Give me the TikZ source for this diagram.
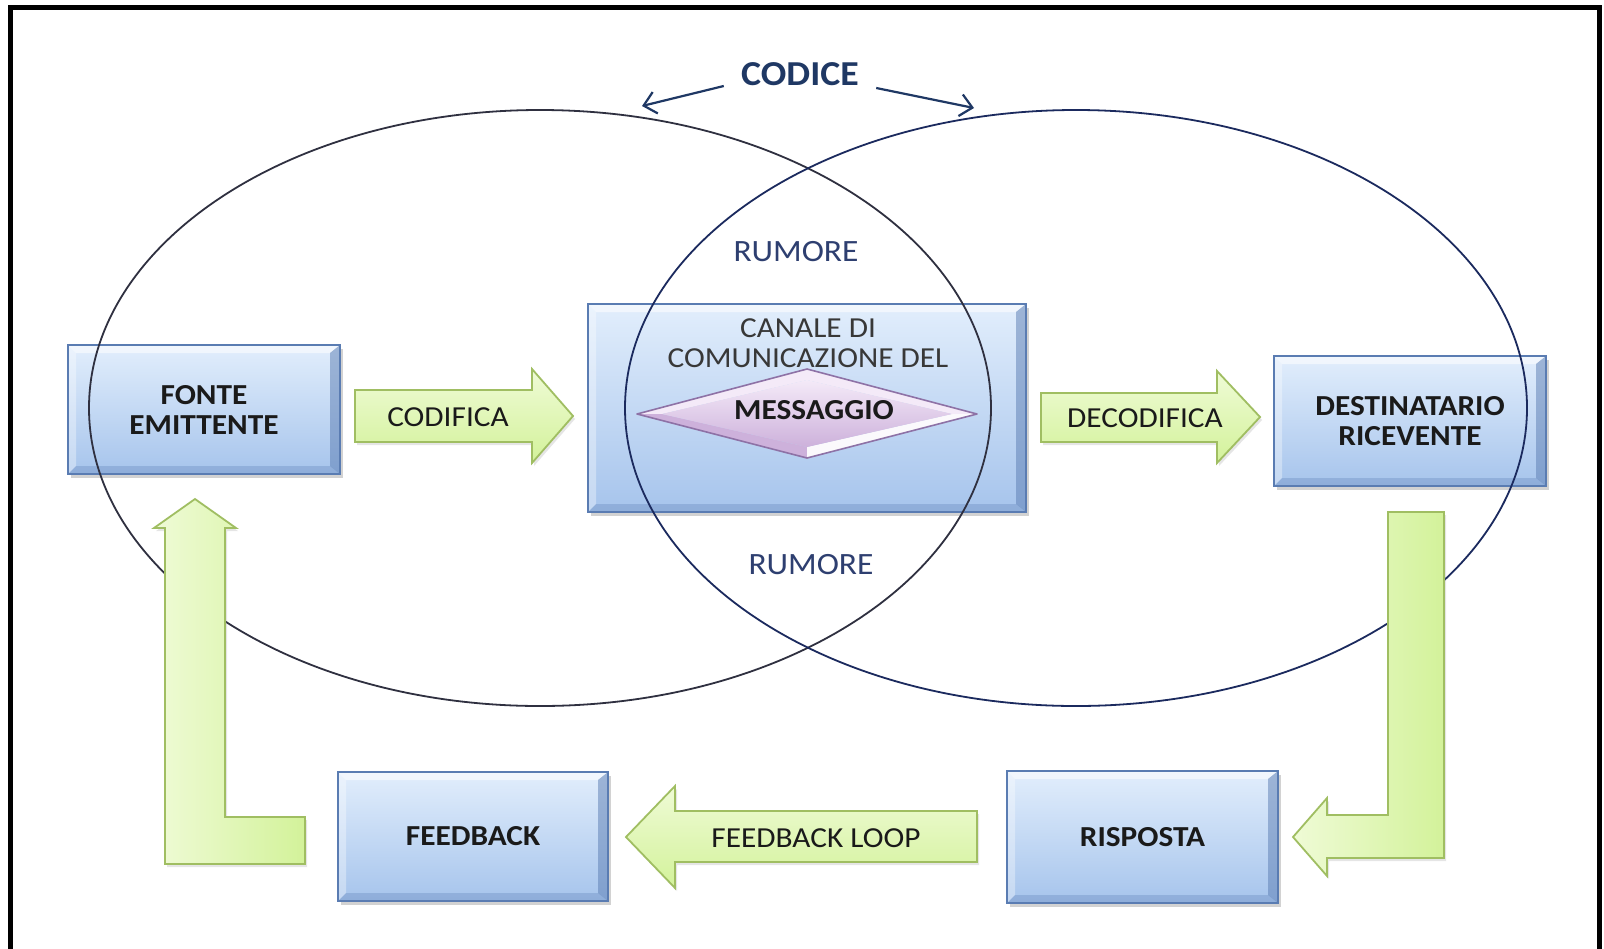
\documentclass[tikz,border=0pt]{standalone}
\usepackage{fontspec}
\setmainfont{Carlito}[FakeStretch=1.08]
\usetikzlibrary{shadows,calc,arrows.meta}
\definecolor{boxtop}{HTML}{E2EEFC}
\definecolor{boxbot}{HTML}{A6C4EC}
\definecolor{boxedge}{HTML}{5A7CB2}
\definecolor{grtop}{HTML}{EFFBD6}
\definecolor{grbot}{HTML}{D3F29A}
\definecolor{gredge}{HTML}{A0BE62}
\definecolor{navy}{HTML}{1F3864}
\definecolor{rumcol}{HTML}{2E3F70}
\definecolor{lellipse}{HTML}{2F3040}
\definecolor{rellipse}{HTML}{1B2A5E}
\definecolor{txt}{HTML}{1A1A1A}
\definecolor{ctxt}{HTML}{383838}
\definecolor{diatop}{HTML}{F4EAF8}
\definecolor{diabot}{HTML}{CDB1DB}
\definecolor{diaedge}{HTML}{8E72A6}
\tikzset{
  bbox/.style={draw=boxedge, line width=0.8pt, top color=boxtop, bottom color=boxbot, inner sep=0pt,
    drop shadow={opacity=0.35, shadow xshift=1.5pt, shadow yshift=-2pt},
    path picture={
      \path[fill=white, fill opacity=0.55]
        (path picture bounding box.north west) -- (path picture bounding box.north east)
        -- ([shift={(-5pt,-4pt)}]path picture bounding box.north east)
        -- ([shift={(4pt,-4pt)}]path picture bounding box.north west) -- cycle;
      \path[fill=white, fill opacity=0.35]
        (path picture bounding box.north west) -- (path picture bounding box.south west)
        -- ([shift={(4pt,4pt)}]path picture bounding box.south west)
        -- ([shift={(4pt,-4pt)}]path picture bounding box.north west) -- cycle;
      \path[fill=boxedge, fill opacity=0.5]
        (path picture bounding box.north east) -- (path picture bounding box.south east)
        -- ([shift={(-5pt,4pt)}]path picture bounding box.south east)
        -- ([shift={(-5pt,-4pt)}]path picture bounding box.north east) -- cycle;
      \path[fill=boxedge, fill opacity=0.3]
        (path picture bounding box.south west) -- (path picture bounding box.south east)
        -- ([shift={(-5pt,4pt)}]path picture bounding box.south east)
        -- ([shift={(4pt,4pt)}]path picture bounding box.south west) -- cycle;
    }},
  blabel/.style={font=\fontsize{14.5}{15}\selectfont\bfseries, text=txt, align=center},
  alabel/.style={font=\fontsize{14.5}{15}\selectfont, text=txt, inner sep=0pt},
  clabel/.style={font=\fontsize{14.5}{15}\selectfont, text=ctxt, inner sep=0pt},
  rlabel/.style={font=\fontsize{15.5}{16}\selectfont, text=rumcol, inner sep=0pt},
  garrow/.style={draw=gredge, line width=0.9pt, top color=grtop, bottom color=grbot,
    drop shadow={opacity=0.2, shadow xshift=1pt, shadow yshift=-1.5pt}},
  garrowv/.style={draw=gredge, line width=0.9pt, left color=grtop, right color=grbot,
    drop shadow={opacity=0.2, shadow xshift=1pt, shadow yshift=-1.5pt}},
  codarrow/.style={navy, line width=1.1pt, -{Straight Barb[length=6pt,width=11pt]}},
}
\begin{document}
\begin{tikzpicture}[x=0.5pt,y=-0.5pt]
\useasboundingbox (0,0) rectangle (1604,948);
\fill[white] (0,0) rectangle (1604,948);
\begin{scope}
\clip (0,0) rectangle (1604,948);
% frame
\draw[line width=2.5pt, black] (10,970) -- (10,7.5) -- (1599,7.5) -- (1599,970);

% boxes
\node[bbox, blabel, minimum width=136pt, minimum height=64.5pt] (fonte) at (204,409.5) {FONTE\\EMITTENTE};
\node[bbox, minimum width=219pt, minimum height=104pt] (canale) at (807,408) {};
\node[bbox, blabel, minimum width=136pt, minimum height=65pt] (dest) at (1410,421) {DESTINATARIO\\RICEVENTE};
\node[bbox, blabel, minimum width=135pt, minimum height=64.5pt] (feedback) at (473,836.5) {FEEDBACK};
\node[bbox, blabel, minimum width=135.5pt, minimum height=66pt] (risposta) at (1142.5,837) {RISPOSTA};

% straight green arrows
\path[garrow] (355,390) -- (532,390) -- (532,369) -- (573,416) -- (532,463) -- (532,442) -- (355,442) -- cycle;
\node[alabel] (codifica) at (448,417) {CODIFICA};
\path[garrow] (1041,393) -- (1217,393) -- (1217,371) -- (1260,417) -- (1217,463) -- (1217,442) -- (1041,442) -- cycle;
\node[alabel] (decodifica) at (1145,418) {DECODIFICA};
\path[garrow] (977,811) -- (675,811) -- (675,786) -- (626,837) -- (675,888) -- (675,862) -- (977,862) -- cycle;
\node[alabel] (fbloop) at (816,838) {FEEDBACK LOOP};

% diamond
\coordinate (dl) at (637,414); \coordinate (dt) at (807,369);
\coordinate (dr) at (977,414); \coordinate (db) at (807,458);
\coordinate (il) at (662,414); \coordinate (it) at (807,380);
\coordinate (ir) at (952,414); \coordinate (ib) at (807,447);
\path[fill=diatop] (dl) -- (dt) -- (dr) -- (ir) -- (it) -- (il) -- cycle;
\path[fill=diabot] (dl) -- (db) -- (ib) -- (il) -- cycle;
\path[fill=white!92!diabot] (dr) -- (db) -- (ib) -- (ir) -- cycle;
\path[top color=diatop, bottom color=diabot] (il) -- (it) -- (ir) -- (ib) -- cycle;
\draw[diaedge, line width=0.8pt, line join=round] (dl) -- (dt) -- (dr) -- (db) -- cycle;

% centre texts
\node[clabel] (canale1) at (808,328) {CANALE DI};
\node[clabel] (canale2) at (808,358) {COMUNICAZIONE DEL};
\node[alabel, font=\fontsize{14.5}{15}\selectfont\bfseries] (messaggio) at (814,410) {MESSAGGIO};

% rumore
\node[rlabel] (rum1) at (796,252) {RUMORE};
\node[rlabel] (rum2) at (811,565) {RUMORE};

% codice
\node[font=\fontsize{17.5}{18}\selectfont\bfseries, text=navy, inner sep=0pt] (codice) at (800,74) {CODICE};
\coordinate (lefttop) at (642,106);
\coordinate (righttop) at (974,108);
\draw[codarrow] ($(codice.west)+(-17,12)$) -- (lefttop);
\draw[codarrow] ($(codice.east)+(17,14)$) -- (righttop);

% ellipses
\draw[lellipse, line width=0.9pt] (540,408) ellipse [x radius=225.5pt, y radius=149pt];
\draw[rellipse, line width=0.9pt] (1076,408) ellipse [x radius=225.5pt, y radius=149pt];

% L arrows
\path[garrowv] (165,528) -- (154,528) -- (195,499) -- (236,528) -- (225,528) -- (225,817) -- (305,817) -- (305,864) -- (165,864) -- cycle;
\path[garrowv] (1388,512) -- (1444,512) -- (1444,858) -- (1327,858) -- (1327,876) -- (1293,837) -- (1327,798) -- (1327,815) -- (1388,815) -- cycle;
\end{scope}
\end{tikzpicture}
\end{document}
